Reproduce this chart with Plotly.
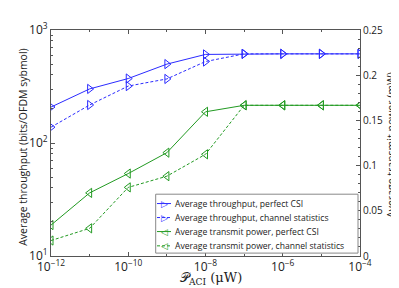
import plotly.graph_objects as go

p_aci = [1e-12, 1e-11, 1e-10, 1e-9, 1e-8, 1e-7, 1e-6, 1e-5, 1e-4]
thr_perfect = [208, 301, 372, 499, 608, 615, 615, 615, 615]
thr_stats = [138, 217, 319, 369, 526, 615, 615, 615, 615]
pow_perfect = [0.0342, 0.0698, 0.0912, 0.1143, 0.1595, 0.1667, 0.1667, 0.1667, 0.1667]
pow_stats = [0.0171, 0.0306, 0.0759, 0.0883, 0.1125, 0.1667, 0.1667, 0.1667, 0.1667]

names = ["Average throughput, perfect CSI",
         "Average throughput, channel statistics",
         "Average transmit power, perfect CSI",
         "Average transmit power, channel statistics"]

x_tickvals = [1e-12, 1e-10, 1e-8, 1e-6, 1e-4]
x_ticktext = ["10<sup>−12</sup>", "10<sup>−10</sup>", "10<sup>−8</sup>", "10<sup>−6</sup>", "10<sup>−4</sup>"]
y_tickvals = [10, 100, 1000]
y_ticktext = ["10<sup>1</sup>", "10<sup>2</sup>", "10<sup>3</sup>"]
y2_tickvals = [0, 0.05, 0.1, 0.15, 0.2, 0.25]
y2_ticktext = ["0", "0.05", "0.1", "0.15", "0.2", "0.25"]

BLUE = "#2b2bff"
GREEN = "#229a22"
DASH = "3px,2px"
colors = [BLUE, BLUE, GREEN, GREEN]
dashes = ["solid", DASH, "solid", DASH]
glyphs = ["▷", "▷", "◁", "◁"]

# The page body has an 8px default margin; size the figure to fit the window.
OFF = 8
W, H = 399 - OFF, 288 - OFF
L, R, T, B = 51, 360, 22, 256  # plot area in window pixels


def px(x):
    return (x - L) / (R - L)


def py(y):
    return (B - y) / (B - T)


fig = go.Figure()
fig.add_trace(go.Scatter(x=p_aci, y=thr_perfect, name=names[0], mode="lines+markers",
                         line=dict(color=BLUE, width=1),
                         marker=dict(symbol="triangle-right-open", size=8, color=BLUE, line=dict(width=1))))
fig.add_trace(go.Scatter(x=p_aci, y=thr_stats, name=names[1], mode="lines+markers",
                         line=dict(color=BLUE, width=1, dash=DASH),
                         marker=dict(symbol="triangle-right-open", size=8, color=BLUE, line=dict(width=1))))
fig.add_trace(go.Scatter(x=p_aci, y=pow_perfect, name=names[2], mode="lines+markers", yaxis="y2",
                         line=dict(color=GREEN, width=1),
                         marker=dict(symbol="triangle-left-open", size=8, color=GREEN, line=dict(width=1))))
fig.add_trace(go.Scatter(x=p_aci, y=pow_stats, name=names[3], mode="lines+markers", yaxis="y2",
                         line=dict(color=GREEN, width=1, dash=DASH),
                         marker=dict(symbol="triangle-left-open", size=8, color=GREEN, line=dict(width=1))))

axis_col = "#555555"
txt_col = "#222222"
sans = "Open Sans, DejaVu Sans, sans-serif"
log_tick_font = dict(family=sans, size=12, color=txt_col)
lin_tick_font = dict(family=sans, size=10, color=txt_col)

shapes = []
annotations = []

# Legend box (drawn manually to match compact MATLAB legend)
shapes.append(dict(type="rect", xref="paper", yref="paper",
                   x0=px(155.7), x1=px(358), y0=py(253), y1=py(192),
                   fillcolor="white", line=dict(color="#888888", width=1), layer="above"))
row_y = [201.7, 216.2, 230.7, 245.5]
for i, ry in enumerate(row_y):
    shapes.append(dict(type="line", xref="paper", yref="paper",
                       x0=px(157), x1=px(171), y0=py(ry), y1=py(ry),
                       line=dict(color=colors[i], width=1, dash=dashes[i]), layer="above"))
    annotations.append(dict(text=glyphs[i], xref="paper", yref="paper", x=px(164), y=py(ry),
                            xanchor="center", yanchor="middle", showarrow=False,
                            font=dict(family="DejaVu Sans", size=9, color=colors[i])))
    annotations.append(dict(text=names[i], xref="paper", yref="paper", x=px(172.5), y=py(ry),
                            xanchor="left", yanchor="middle", showarrow=False,
                            font=dict(family=sans, size=8.6, color=txt_col)))

# Axis titles
annotations.append(dict(text="𝒫<sub>ACI</sub> (μW)", xref="paper", yref="paper",
                        x=px(211), y=py(279), xanchor="center", yanchor="middle", showarrow=False,
                        font=dict(family="DejaVu Serif, Liberation Serif, serif", size=13, color=txt_col)))
annotations.append(dict(text="Average throughput (bits/OFDM sybmol)", xref="paper", yref="paper",
                        x=0, xshift=-(L - 23), y=py(143), xanchor="center", yanchor="middle", showarrow=False,
                        textangle=-90, font=dict(family=sans, size=10.5, color=txt_col)))
annotations.append(dict(text="Average transmit power (mW)", xref="paper", yref="paper",
                        x=1, xshift=(391 - R), y=py(141), xanchor="center", yanchor="middle", showarrow=False,
                        textangle=-90, font=dict(family=sans, size=10.5, color=txt_col)))

fig.update_layout(
    width=W, height=H,
    margin=dict(l=L - OFF, r=W - (R - OFF), t=T - OFF, b=H - (B - OFF)),
    paper_bgcolor="white", plot_bgcolor="white",
    showlegend=False,
    shapes=shapes,
    annotations=annotations,
    xaxis=dict(type="log", range=[-12, -4], tickvals=x_tickvals, ticktext=x_ticktext,
               showgrid=False, zeroline=False, showline=True, linecolor=axis_col, linewidth=1,
               mirror="ticks", ticks="inside", ticklen=4, tickcolor=axis_col,
               minor=dict(tickvals=p_aci, ticks="inside", ticklen=2, tickcolor=axis_col),
               tickfont=log_tick_font),
    yaxis=dict(type="log", range=[1, 3], tickvals=y_tickvals, ticktext=y_ticktext,
               showgrid=False, zeroline=False, showline=True, linecolor=axis_col, linewidth=1,
               ticks="inside", ticklen=4, tickcolor=axis_col,
               minor=dict(dtick="D1", ticks="inside", ticklen=2, tickcolor=axis_col),
               tickfont=log_tick_font),
    yaxis2=dict(overlaying="y", side="right", range=[0, 0.25], tickvals=y2_tickvals, ticktext=y2_ticktext,
                showgrid=False, zeroline=False, showline=True, linecolor=axis_col, linewidth=1,
                ticks="inside", ticklen=4, tickcolor=axis_col,
                minor=dict(dtick=0.01, ticks="inside", ticklen=2, tickcolor=axis_col),
                tickfont=lin_tick_font),
)

fig.write_html("out.html")
